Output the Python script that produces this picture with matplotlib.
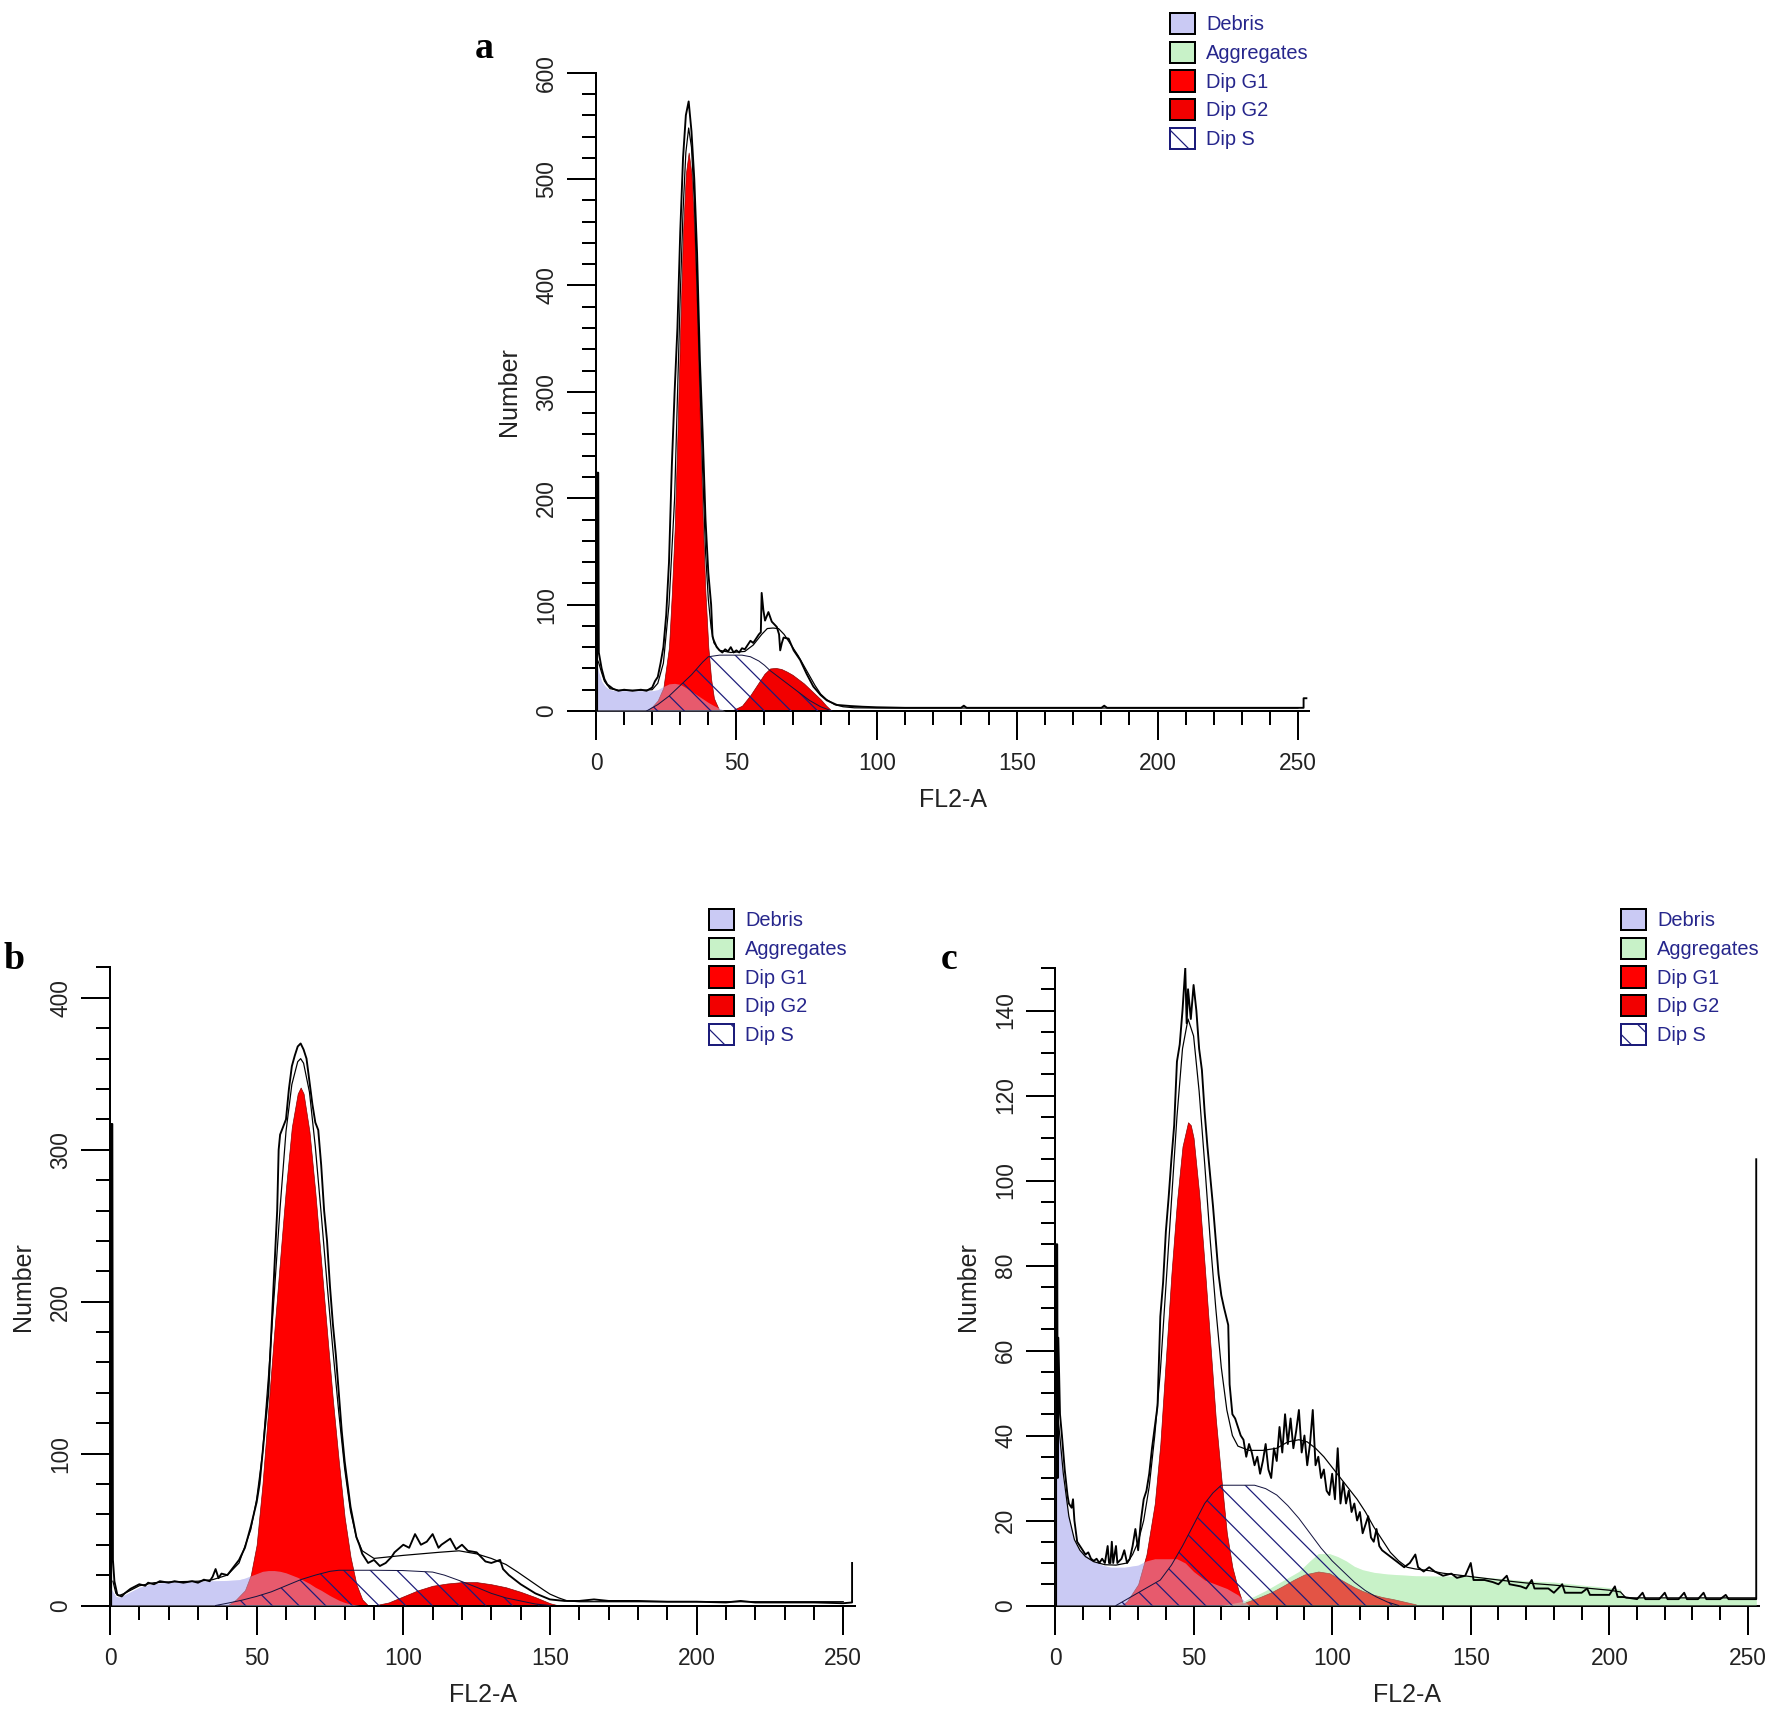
import numpy as np
import matplotlib.pyplot as plt
from matplotlib.patches import Patch
from matplotlib.ticker import MultipleLocator

plt.rcParams['font.family'] = ['Liberation Sans', 'DejaVu Sans']
plt.rcParams['hatch.linewidth'] = 1.1

W, H, DPI = 1772, 1712, 80

# ---- panel a : (channel, count) pairs ----
a_data = [(0.4, 0), (0.4, 224), (0.8, 224), (1, 55), (2, 40), (3, 30), (4, 25), (6, 21), (8, 19), (10, 20),
          (13, 19), (16, 20), (18, 19), (20, 22), (21, 28), (22, 32), (23, 45), (24, 60), (25, 90), (26, 140),
          (27, 230), (28, 300), (29, 360), (30, 450), (31, 520), (32, 560), (33, 573), (34, 545), (35, 500),
          (36, 430), (37, 330), (38, 260), (39, 180), (40, 130), (41, 100), (41.5, 70), (42, 66), (43, 60),
          (44, 57), (45, 55), (46, 58), (47, 56), (48, 60), (49, 55), (50, 57), (51, 55), (52, 59), (53, 58),
          (54, 62), (55, 66), (56, 64), (57, 68), (58, 72), (58.7, 74), (59, 111), (59.6, 95), (60.2, 85),
          (61.4, 93), (62.6, 84), (64.4, 79), (65.2, 72), (65.6, 57), (66.2, 64), (66.8, 69), (68.6, 68),
          (70.4, 57), (72.7, 48), (75, 35), (77.4, 23), (80, 15), (82.2, 10), (85.8, 5.7), (90.5, 4.7),
          (95, 4), (100, 3.5), (110, 3), (120, 3), (130, 3), (131, 5), (132, 3), (140, 3), (150, 3), (160, 3),
          (170, 3), (180, 3), (181, 5), (182, 3), (190, 3), (200, 3), (210, 3), (220, 3), (230, 3), (240, 3),
          (250, 3), (252, 3), (252, 12), (253, 12)]
a_fit = [(0.5, 48), (1, 45), (2, 36), (3, 28), (5, 21), (8, 19.5), (12, 19.5), (16, 19.5), (20, 20), (22, 26),
         (24, 45), (26, 100), (28, 200), (30, 390), (31, 470), (32, 525), (33, 548), (34, 530), (35, 480),
         (36, 400), (37, 310), (38, 225), (39, 150), (40, 105), (41, 78), (42, 64), (44, 57), (48, 55), (53, 56),
         (56, 62), (59, 72), (61, 77.5), (63, 78), (65, 77.5), (67, 72), (70, 60), (72, 52), (75, 38), (78, 24),
         (80, 16), (82, 11), (85, 6), (88, 4), (92, 3), (100, 2.8), (150, 2.8), (200, 2.8), (250, 2.8)]
a_debris = [(0, 46), (1, 36), (2, 28), (3, 24), (4, 21.5), (5, 20), (6, 19.5), (10, 19), (15, 19), (20, 19),
            (22, 20), (24, 23), (26, 25.5), (28, 26), (30, 25), (32, 22), (34, 18.5), (36, 15), (38, 11.5),
            (40, 8), (42, 5), (44, 2.5), (46, 0)]
a_g1 = [(18, 0), (20, 4), (22, 10), (24, 22), (26, 60), (27, 110), (28, 170), (29, 260), (30, 360), (31, 450),
        (32, 505), (33, 525), (34, 505), (35, 450), (36, 370), (37, 270), (38, 180), (39, 110), (40, 60),
        (41, 30), (42, 12), (44, 0)]
a_g2 = [(48, 0), (52, 5), (55, 15), (58, 27), (60, 35), (62, 40), (64, 40.5), (66, 39.5), (68, 37), (70, 34),
        (72, 30), (74, 26), (76, 21), (78, 16), (80, 11), (82, 5), (84, 0)]
a_s = [(18, 0), (22, 6), (26, 14), (30, 24), (34, 34), (38, 46), (40, 51), (44, 52.5), (48, 52.5), (52, 52.5),
       (55, 51), (58, 47), (60, 43), (62, 38), (64, 34), (66, 30), (68, 26), (70, 22), (72, 18), (74, 14),
       (76, 10), (78, 7), (80, 4), (82, 2), (84, 0)]

# ---- panel b ----
b_data = [(0.4, 0), (0.4, 317), (0.8, 317), (1, 30), (1.5, 16), (2.5, 7), (4, 6), (5, 8), (7, 11), (9, 13),
          (10, 14), (12, 13), (13, 15), (15, 14), (17, 16), (20, 15), (22, 16), (25, 15), (28, 16), (30, 15),
          (32, 17), (34, 16), (35, 19), (36, 24), (37, 18), (38, 21), (40, 20), (42, 25), (44, 30), (46, 38),
          (48, 52), (50, 68), (51, 80), (52, 100), (53, 120), (54, 140), (55, 180), (56, 220), (57, 260),
          (57.5, 300), (58, 310), (59, 315), (60, 320), (61, 340), (62, 355), (63, 362), (64, 368), (65, 370),
          (66, 366), (67, 360), (68, 345), (69, 330), (70, 318), (71, 313), (72, 290), (73, 260), (74, 240),
          (75, 210), (76, 185), (77, 165), (78, 140), (79, 115), (80, 95), (81, 80), (82, 65), (83, 55),
          (84, 45), (85, 40), (86, 34), (88, 28), (90, 30), (92, 26), (94, 28), (96, 32), (97, 35), (100, 40),
          (102, 38), (104, 47), (106, 40), (108, 42), (110, 47), (112, 38), (113, 40), (116, 44), (118, 37),
          (120, 40), (122, 36), (125, 35), (128, 29), (130, 28), (133, 30), (134, 24), (136, 20), (140, 14),
          (145, 8), (150, 4), (155, 3), (160, 3), (165, 4), (170, 3), (180, 3), (190, 2.5), (200, 2.5),
          (210, 2), (215, 3), (220, 2), (230, 2), (240, 2), (250, 1.5), (253, 2), (253, 28)]
b_fit = [(1, 16), (2, 8), (3, 6.5), (5, 8), (10, 13), (15, 15), (20, 15.5), (30, 16), (35, 17), (40, 20),
         (44, 28), (48, 50), (50, 70), (52, 100), (54, 150), (56, 205), (58, 262), (60, 312), (62, 343),
         (64, 358), (65, 360), (66, 357), (68, 338), (70, 302), (72, 258), (74, 212), (76, 168), (78, 127),
         (80, 90), (82, 62), (84, 45), (86, 36), (90, 31), (95, 32), (100, 33), (106, 34), (112, 35), (119, 36),
         (125, 34), (130, 31), (135, 27), (139, 22), (142, 18), (145, 14), (148, 10), (150, 7.5), (153, 5),
         (156, 3), (160, 2.5), (250, 2.5)]
b_debris = [(0, 12), (1, 9), (2, 6), (3, 5.5), (5, 7), (8, 10), (10, 12), (14, 14), (18, 15), (22, 15.5),
            (30, 16), (40, 16.5), (44, 17), (46, 18), (48, 19.5), (50, 21), (52, 22.5), (54, 23), (56, 23),
            (58, 22.5), (60, 21.5), (62, 20), (64, 18.5), (66, 16.5), (68, 14.5), (70, 12), (72, 10), (75, 6.5),
            (78, 3.5), (80, 2), (82, 1), (85, 0)]
b_g1 = [(40, 0), (43, 4), (46, 10), (48, 20), (50, 40), (52, 80), (54, 130), (56, 180), (58, 228), (60, 275),
        (62, 315), (64, 337), (65, 341), (66, 337), (68, 312), (70, 272), (72, 226), (74, 180), (76, 135),
        (78, 95), (80, 58), (82, 32), (84, 14), (86, 4), (88, 0)]
b_g2 = [(90, 0), (95, 2), (100, 6), (105, 10), (110, 13), (115, 14.5), (120, 15.4), (125, 15.4), (130, 14),
        (135, 12), (140, 9), (145, 5.5), (150, 1.5), (153, 0)]
b_s = [(36, 0), (40, 1.5), (45, 3.5), (50, 6), (55, 9), (60, 13), (65, 17), (70, 20), (75, 22.5), (78, 23.2),
       (90, 23.2), (100, 23), (110, 22), (114, 20), (119, 16.5), (125, 12), (130, 8), (135, 5), (140, 3),
       (145, 1), (150, 0)]

# ---- panel c ----
c_data = [(0.4, 0), (0.4, 85), (0.8, 85), (1, 30), (1.2, 63), (1.8, 45), (2.5, 40), (3.5, 32), (4.5, 26),
          (5, 24), (6, 23), (6.5, 25), (7, 20), (8, 15), (9, 14), (10, 13), (11, 12), (12, 12.5), (13, 11),
          (14, 10.5), (15, 11), (16, 10), (17, 11), (18, 10), (19, 14), (19.5, 10), (20, 10), (20.5, 15),
          (21, 10), (22, 14), (22.5, 10), (24, 11), (25, 13), (26, 10), (27, 11), (28, 14), (29, 18), (30, 13),
          (31, 20), (32, 25), (33, 27), (34, 31), (35, 37), (36, 42), (37, 47), (38, 68), (39, 76), (40, 88),
          (41, 96), (42, 105), (43, 113), (44, 128), (45, 132), (46, 140), (47, 150), (47.5, 137), (48, 145),
          (49, 138), (50, 146), (51, 140), (52, 131), (53, 126), (54, 116), (55, 108), (56, 101), (57, 94),
          (58, 86), (59, 78), (60, 73), (61, 70), (62.5, 66), (63, 52), (64, 45), (65, 44), (66, 42), (67, 40),
          (68, 39), (69, 35), (70, 38), (71, 36), (72, 33), (73, 35), (74, 31), (75, 34), (76, 38), (77, 32),
          (78, 30), (79, 37), (80, 34), (81, 42), (82, 36), (83, 45), (84, 38), (85, 44), (86, 37), (87, 41),
          (88, 46), (89, 36), (90, 40), (91, 33), (92, 38), (93, 46), (94, 33), (95, 35), (96, 30), (97, 32),
          (98, 27), (99, 26), (100, 31), (101, 25), (102, 37), (103, 24), (104, 29), (105, 24), (106, 27),
          (107, 22), (108, 24), (109, 20), (110, 22), (111, 17), (112, 19), (113, 21), (114, 16), (115, 15),
          (116, 18), (117, 14), (118, 13), (120, 12), (122, 11), (124, 10), (126, 9), (128, 10), (130, 12),
          (131, 9), (133, 8), (135, 9), (137, 8), (140, 7), (143, 7.5), (145, 6.5), (148, 7), (150, 10),
          (151, 6), (155, 6), (158, 5.5), (160, 5), (163, 7), (164, 5), (168, 4.5), (170, 4), (172, 6),
          (173, 4), (178, 4), (180, 3), (183, 5), (184, 3), (190, 3), (192, 4), (193, 2.5), (200, 2.5),
          (202, 4.5), (203, 2), (205, 2), (210, 1.5), (212, 3), (213, 1.5), (218, 1.5), (220, 3), (221, 1.5),
          (225, 1.5), (227, 3), (228, 1.5), (232, 1.5), (234, 3), (235, 1.5), (240, 1.5), (242, 2.5),
          (243, 1.5), (249, 1.5), (253, 1.5), (253, 105)]
c_fit = [(0.5, 48), (1, 45), (2, 38), (3, 31), (4, 26), (5, 21), (7, 15.5), (9, 13), (11, 11.5), (14, 10.3),
         (18, 9.6), (22, 9.5), (26, 10), (28, 12), (30, 15), (32, 20), (34, 28), (36, 40), (38, 55), (40, 75),
         (42, 95), (44, 115), (46, 131), (48, 138), (50, 134), (52, 121), (54, 104), (56, 86), (58, 70),
         (60, 56), (62, 46), (64, 40), (66, 37.5), (70, 36.5), (75, 36.5), (80, 37), (84, 38.5), (88, 39),
         (91, 38.5), (94, 37), (97, 35), (100, 32.5), (103, 30), (106, 27.5), (109, 25), (112, 22), (115, 18.5),
         (118, 15.5), (121, 12.5), (124, 10.5), (127, 9), (130, 8.6), (135, 8.2), (140, 7.6), (150, 6.8),
         (160, 6), (170, 5.3), (180, 4.8), (190, 4.2), (200, 3.6), (204, 3.2), (206, 1.8), (253, 1.8)]
c_debris = [(0, 50), (0.5, 48), (1.5, 41), (3, 29), (5, 21), (7, 15), (9, 13), (11, 12), (14, 10.5), (17, 9.5),
            (20, 9), (25, 9), (30, 9.5), (33, 10.5), (36, 11), (40, 11), (44, 11), (47, 10), (50, 8), (54, 6),
            (58, 5), (62, 4), (66, 2.5), (70, 0)]
c_g1 = [(24, 0), (26, 1), (30, 5), (33, 12), (36, 24), (38, 38), (40, 58), (42, 78), (44, 95), (46, 108),
        (48, 113.7), (49, 113), (50, 110), (52, 97), (54, 80), (56, 62), (58, 44), (60, 30), (62, 17), (64, 9),
        (66, 4), (68, 0)]
c_g2 = [(66, 0), (69, 0.8), (74, 2), (78, 3.1), (82, 4.5), (86, 6), (90, 7.3), (95, 8), (99, 7.6), (102, 6.5),
        (105, 5.4), (108, 4.3), (111, 3.4), (114, 2.7), (118, 2), (122, 1.5), (126, 0.9), (130, 0.3), (131, 0)]
c_s = [(22, 0), (26, 1.5), (30, 3), (34, 4.5), (38, 6), (42, 9.5), (46, 14), (50, 19), (54, 24), (57, 26.5),
       (60, 28.3), (66, 28.3), (72, 28.3), (76, 27.5), (80, 26), (84, 23.5), (88, 20.5), (92, 17), (96, 13.5),
       (100, 10.5), (104, 8), (108, 5.5), (112, 3.5), (116, 2), (120, 0.8), (124, 0)]
c_agg = [(60, 0), (64, 0.5), (68, 1), (72, 2.2), (76, 3.5), (80, 5), (84, 6.5), (88, 8), (92, 10.5), (95, 12.2),
         (99, 12.2), (102, 11.5), (105, 10.5), (108, 9.2), (111, 8.4), (115, 7.8), (120, 7.4), (130, 7),
         (140, 6.9), (150, 6.9), (160, 6.4), (170, 5.8), (180, 5.5), (190, 4.8), (200, 4.2), (204, 3.8),
         (205, 1.8), (253, 1.8)]

legend_labels = ['Debris', 'Aggregates', 'Dip G1', 'Dip G2', 'Dip S']

LAV = '#cacaf4'
GREEN = '#c8f2c8'
RED = '#ff0000'
RED2 = '#f20000'
NAVY = '#1c1c7a'
TXT = '#222222'

fig = plt.figure(figsize=(W / DPI, H / DPI), dpi=DPI)


def make_axes(left, bottom, width, height):
    return fig.add_axes([left / W, 1 - bottom / H, width / W, height / H])


def xy(pts):
    arr = np.array(pts, dtype=float)
    return arr[:, 0], arr[:, 1]


def style(ax, xmax, ymax, ymaj, ymin, width, height):
    ax.set_xlim(0, xmax)
    ax.set_ylim(0, ymax)
    for side in ['top', 'right']:
        ax.spines[side].set_visible(False)
    for side in ['left', 'bottom']:
        ax.spines[side].set_linewidth(1.8)
    ax.xaxis.set_major_locator(MultipleLocator(50))
    ax.xaxis.set_minor_locator(MultipleLocator(10))
    ax.yaxis.set_major_locator(MultipleLocator(ymaj))
    ax.yaxis.set_minor_locator(MultipleLocator(ymin))
    ax.tick_params(which='major', length=26, width=1.8, direction='out', labelsize=20.5,
                   labelcolor=TXT)
    ax.tick_params(axis='x', which='major', pad=11)
    ax.tick_params(axis='y', which='major', pad=8)
    ax.tick_params(which='minor', length=13, width=1.8, direction='out')
    plt.setp(ax.get_yticklabels(), rotation=90, va='center')
    ax.set_xlabel('FL2-A', fontsize=22.5, color=TXT, va='center')
    ax.xaxis.set_label_coords(0.5, -89 / height)
    ax.set_ylabel('Number', fontsize=22.5, color=TXT, va='center')
    ax.yaxis.set_label_coords(-87 / width, 0.5)


def draw(ax, data, fit, debris, g1, g2, s, agg=None):
    x, y = xy(debris)
    ax.fill_between(x, y, color=LAV, lw=0, zorder=1)
    if agg is not None:
        x, y = xy(agg)
        ax.fill_between(x, y, color=GREEN, lw=0, zorder=1)
    x, y = xy(g1)
    ax.fill_between(x, y, facecolor=RED, edgecolor='#8a0000', lw=0.6, zorder=2)
    x, y = xy(g2)
    ax.fill_between(x, y, facecolor=RED2, edgecolor='#8a0000', lw=0.6, zorder=2)
    # overlaps of debris / aggregates with the red peaks
    x, y = xy(debris)
    ax.fill_between(x, y, color=LAV, alpha=0.45, lw=0, zorder=3)
    if agg is not None:
        x, y = xy(agg)
        ax.fill_between(x, y, color=GREEN, alpha=0.35, lw=0, zorder=3)
    x, y = xy(s)
    ax.fill_between(x, y, facecolor='none', edgecolor=NAVY, hatch='\\', lw=0, zorder=4)
    ax.plot(x, y, color='#141440', lw=0.9, zorder=5)
    x, y = xy(fit)
    ax.plot(x, y, color='black', lw=1.1, zorder=6)
    x, y = xy(data)
    ax.plot(x, y, color='black', lw=1.7, zorder=7)


def add_legend(ax, left, top):
    handles = [Patch(facecolor=LAV, edgecolor='black', lw=1.8),
               Patch(facecolor=GREEN, edgecolor='black', lw=1.8),
               Patch(facecolor=RED, edgecolor='black', lw=1.8),
               Patch(facecolor=RED2, edgecolor='black', lw=1.8),
               Patch(facecolor='white', edgecolor=NAVY, lw=1.8, hatch='\\')]
    ax.legend(handles, legend_labels, loc='upper left', bbox_to_anchor=(left / W, 1 - top / H),
              bbox_transform=fig.transFigure, frameon=False, fontsize=18, handlelength=1.25,
              handleheight=1.25, handletextpad=0.55, labelspacing=0.37, borderpad=0,
              borderaxespad=0, labelcolor='#26268c')


# panel a
ax_a = make_axes(596, 711, 713.2, 638.3)
draw(ax_a, a_data, a_fit, a_debris, a_g1, a_g2, a_s)
style(ax_a, 254, 600, 100, 20, 713.2, 638.3)
add_legend(ax_a, 1170, 13)

# panel b
ax_b = make_axes(110, 1605.5, 745, 638)
draw(ax_b, b_data, b_fit, b_debris, b_g1, b_g2, b_s)
style(ax_b, 254, 420, 100, 20, 745, 638)
add_legend(ax_b, 709, 909)

# panel c
ax_c = make_axes(1055, 1605.5, 704, 637.5)
draw(ax_c, c_data, c_fit, c_debris, c_g1, c_g2, c_s, c_agg)
style(ax_c, 254, 150, 20, 5, 704, 637.5)
add_legend(ax_c, 1621, 909)

for letter, px, py in [('a', 475, 58), ('b', 4, 969), ('c', 941, 969)]:
    fig.text(px / W, 1 - py / H, letter, family=['Liberation Serif', 'DejaVu Serif'],
             weight='bold', fontsize=34, ha='left', va='baseline')

fig.savefig('out.png', dpi=DPI, facecolor='white')
